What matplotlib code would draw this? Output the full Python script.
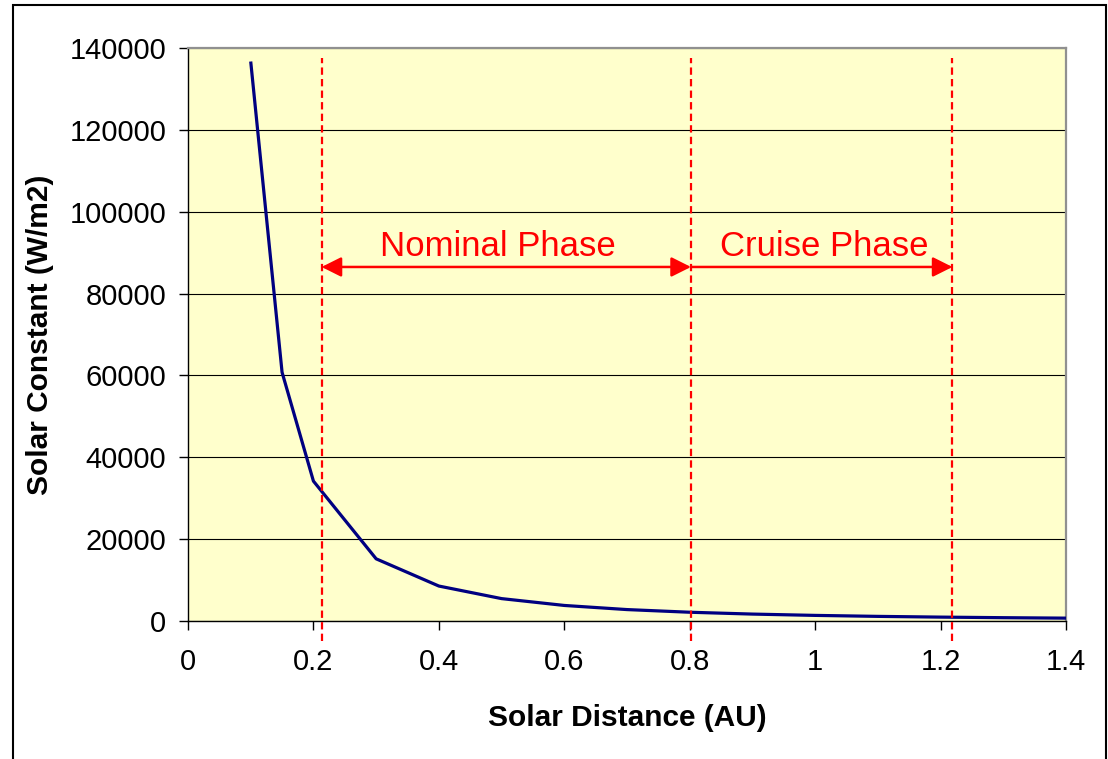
import numpy as np
import matplotlib.pyplot as plt
from matplotlib.patches import Rectangle

plt.rcParams['font.family'] = ['Liberation Sans', 'DejaVu Sans']

# solar distance (AU) and solar constant (W/m2)
dist = [0.1, 0.15, 0.2, 0.3, 0.4, 0.5, 0.6, 0.7, 0.8, 0.9, 1.0, 1.1, 1.2, 1.3, 1.4]
flux = [136700, 60760, 34180, 15190, 8540, 5470, 3800, 2790, 2140, 1690, 1370, 1130, 950, 810, 700]

phase_bounds = [0.213, 0.802, 1.219]
phase_names = ["Nominal Phase", "Cruise Phase"]
phase_label_x = [0.4935, 1.014]
arrow_y = 86500

fig = plt.figure(figsize=(11.08, 7.59), dpi=100)
ax = fig.add_axes([188 / 1108, 1 - 621 / 759, (1066 - 188) / 1108, (621 - 48) / 759])
ax.set_facecolor('#FFFFCC')

ax.plot(dist, flux, color='#000080', lw=2.3, solid_capstyle='butt', zorder=4)

ax.set_xlim(0, 1.4)
ax.set_ylim(0, 140000)
ax.set_xticks([0, 0.2, 0.4, 0.6, 0.8, 1.0, 1.2, 1.4])
ax.set_xticklabels(['0', '0.2', '0.4', '0.6', '0.8', '1', '1.2', '1.4'])
ax.set_yticks(np.arange(0, 140001, 20000))
ax.yaxis.grid(True, color='black', lw=0.8)
ax.set_axisbelow(True)
ax.tick_params(axis='both', labelsize=21, length=6.5, width=1, direction='out', colors='black')
ax.tick_params(axis='x', pad=13)
ax.tick_params(axis='y', pad=9)
for s in ['top', 'right']:
    ax.spines[s].set_color('#909090')
    ax.spines[s].set_linewidth(1.6)
for s in ['left', 'bottom']:
    ax.spines[s].set_color('black')
    ax.spines[s].set_linewidth(1)

ax.set_xlabel('Solar Distance (AU)', fontsize=21.5, fontweight='bold', labelpad=20)
ax.set_ylabel('Solar Constant (W/m2)', fontsize=21.5, fontweight='bold', labelpad=11)

# phase boundaries
for xb in phase_bounds:
    ax.plot([xb, xb], [-4800, 137500], color='red', lw=1.6, ls=(0, (3.3, 1.9)),
            clip_on=False, zorder=5)

ax.annotate('', xy=(phase_bounds[0], arrow_y), xytext=(phase_bounds[1], arrow_y),
            arrowprops=dict(arrowstyle='<|-|>', color='red', lw=1.8,
                            mutation_scale=30, shrinkA=0, shrinkB=0), zorder=6)
ax.annotate('', xy=(phase_bounds[2], arrow_y), xytext=(phase_bounds[1], arrow_y),
            arrowprops=dict(arrowstyle='-|>', color='red', lw=1.8,
                            mutation_scale=30, shrinkA=0, shrinkB=0), zorder=6)
for lx, name in zip(phase_label_x, phase_names):
    ax.text(lx, arrow_y + 1000, name, color='red', fontsize=25, ha='center', va='bottom')

fig.patches.append(Rectangle((13 / 1108, -0.01), (1106 - 13) / 1108, 1 - 5 / 759 + 0.01,
                             transform=fig.transFigure, fill=False, ec='black', lw=1.5))

fig.savefig('out.png', dpi=100)
